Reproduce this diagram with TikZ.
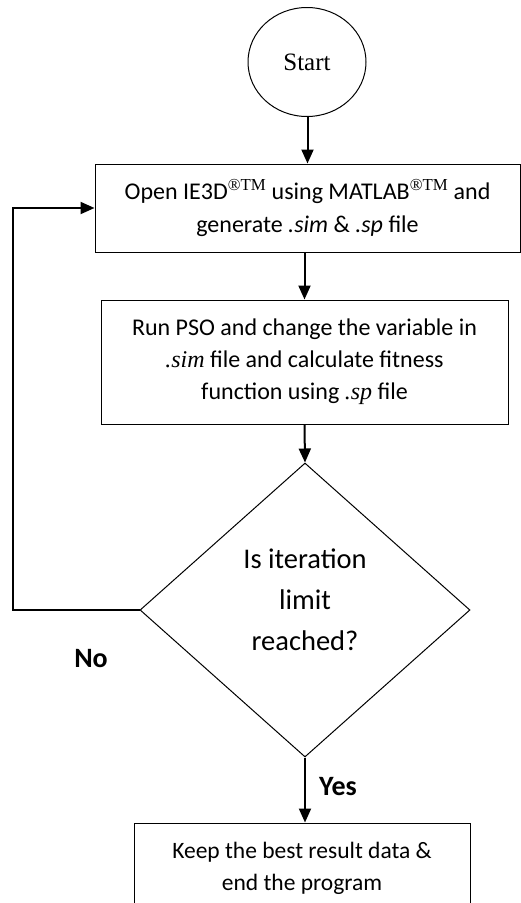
\documentclass[tikz,border=0pt]{standalone}
\usepackage{fontspec}
\setmainfont{Carlito}
\newfontfamily\tnr{Liberation Serif}
\usetikzlibrary{shapes.geometric,arrows.meta}

\begin{document}
\begin{tikzpicture}[x=1pt,y=-1pt,
	box/.style={shape=rectangle,draw=black,line width=1pt,align=center,inner sep=0pt},
	arr/.style={line width=2pt,-{Triangle[width=12pt,length=14pt]}},
	lbl/.style={font=\fontsize{28}{34}\selectfont\bfseries}]
	\useasboundingbox (0,0) rectangle (521,903);

	\node[shape=ellipse,draw=black,line width=1pt,minimum width=118pt,minimum height=109pt,font=\tnr\fontsize{25}{30}\selectfont] (start) at (307,62) {Start};
	\node[box,minimum width=425pt,minimum height=88pt,font=\fontsize{24}{33}\selectfont] (open) at (307.5,208)
		{Open IE3D{\tnr\textsuperscript{®TM}} using MATLAB{\tnr\textsuperscript{®TM}} and\\ generate \textit{.sim} \& \textit{.sp} file};
	\node[box,minimum width=407pt,minimum height=124pt,font=\fontsize{24}{32}\selectfont] (run) at (304.5,362)
		{Run PSO and change the variable in\\ {\tnr\textit{.sim}} file and calculate fitness\\ function using {\tnr\textit{.sp}} file};
	\node[shape=diamond,draw=black,line width=1pt,minimum width=330pt,minimum height=294pt,inner sep=0pt,font=\fontsize{28.5}{41}\selectfont] (check) at (305,610)
		{\raisebox{9pt}[\height][\depth]{\begin{tabular}{@{}c@{}}Is iteration\\ limit\\ reached?\end{tabular}}};
	\node[box,minimum width=336pt,minimum height=90pt,font=\fontsize{23.5}{32}\selectfont] (keep) at (302,868)
		{Keep the best result data \&\\ end the program};

	\coordinate (corner) at (13,610);

	\draw[arr] (start.south -| open.north) -- (open.north);
	\draw[arr] (run.north |- open.south) -- (run.north);
	\draw[arr] (run.south) -- (check.north);
	\draw[arr] (check.south) -- (check.south |- keep.north);
	\draw[arr] (check.west) -- (corner) |- (open.west);

	\node[lbl] (no) at (91,659) {No};
	\node[lbl] (yes) at (338,787) {Yes};
\end{tikzpicture}
\end{document}
